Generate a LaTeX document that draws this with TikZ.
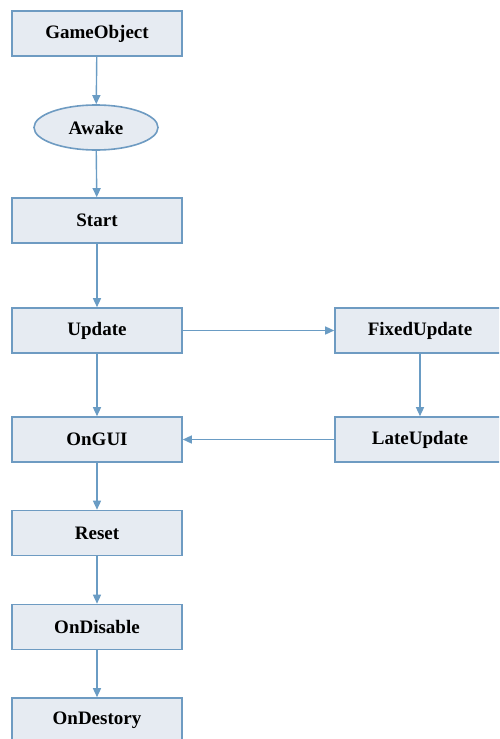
\documentclass[tikz,border=0pt]{standalone}
\usepackage{fontspec}
\setmainfont{Liberation Serif}
\usetikzlibrary{arrows.meta,shapes.geometric}
\definecolor{boxfill}{HTML}{E6EBF2}
\definecolor{boxdraw}{HTML}{6E9BC2}
\definecolor{arrowc}{HTML}{6A9CC4}
\begin{document}
\begin{tikzpicture}[x=1pt,y=-1pt,
  stepbox/.style={draw=boxdraw,line width=1.6pt,fill=boxfill,minimum width=170pt,minimum height=45pt,inner sep=0pt,font=\fontsize{19}{22}\selectfont\bfseries},
  ovalbox/.style={ellipse,draw=boxdraw,line width=1.6pt,fill=boxfill,minimum width=124pt,minimum height=45pt,inner sep=0pt,font=\fontsize{19}{22}\selectfont\bfseries},
  conn/.style={draw=arrowc,line width=1.4pt,-{Triangle[width=8pt,length=9pt]}}]
\useasboundingbox (0,0) rectangle (499,739);
\begin{scope}
\clip (0,0) rectangle (499,739);
\node[stepbox] (go) at (97,33.5) {GameObject};
\node[ovalbox] (awake) at (96,127.5) {Awake};
\node[stepbox] (start) at (97,220.5) {Start};
\node[stepbox] (update) at (97,330.5) {Update};
\node[stepbox] (ongui) at (97,439.5) {OnGUI};
\node[stepbox] (reset) at (97,533) {Reset};
\node[stepbox] (ondisable) at (97,627) {OnDisable};
\node[stepbox] (ondestory) at (97,720.5) {OnDestory};
\node[stepbox] (fixed) at (420,330.5) {FixedUpdate};
\node[stepbox] (late) at (420,439.5) {LateUpdate};
\draw[conn] (go) -- (awake);
\draw[conn] (awake) -- (start);
\draw[conn] (start) -- (update);
\draw[conn] (update) -- (ongui);
\draw[conn] (ongui) -- (reset);
\draw[conn] (reset) -- (ondisable);
\draw[conn] (ondisable) -- (ondestory);
\draw[conn] (update) -- (fixed);
\draw[conn] (fixed) -- (late);
\draw[conn] (late) -- (ongui);
\end{scope}
\end{tikzpicture}
\end{document}
